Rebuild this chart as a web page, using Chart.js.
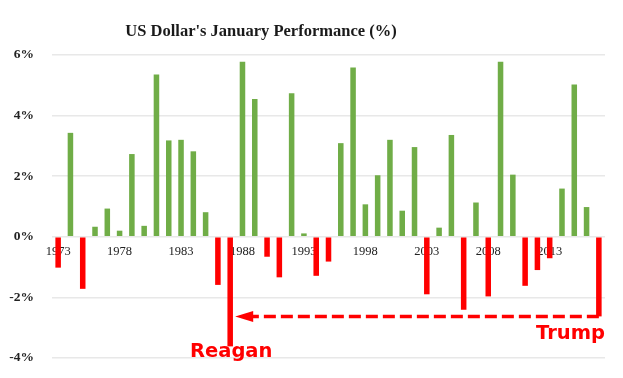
<!DOCTYPE html>
<html>
<head>
<meta charset="utf-8">
<script src="https://cdn.jsdelivr.net/npm/chart.js@4.4.1/dist/chart.umd.min.js"></script>
<style>
  html, body { margin: 0; padding: 0; background: #fff; overflow: hidden; }
  #wrap { width: 623px; height: 384px; }
</style>
</head>
<body>
<div id="wrap"><canvas id="myChart"></canvas></div>
<script>
// January change of the US dollar, per year
const years = [];
for (let y = 1973; y <= 2017; y++) years.push(String(y));
const janPerf = [
  -1.02, 3.43, -1.72, 0.33, 0.93, 0.20, 2.73, 0.36, 5.36, 3.18,
  3.20, 2.82, 0.81, -1.59, -3.62, 5.78, 4.55, -0.66, -1.34, 4.74,
  0.11, -1.29, -0.82, 3.09, 5.59, 1.07, 2.03, 3.20, 0.86, 2.96,
  -1.90, 0.30, 3.36, -2.41, 1.13, -1.97, 5.78, 2.05, -1.62, -1.10,
  -0.71, 1.59, 5.03, 0.98, -2.63
];
const yTicks = [-4, -2, 0, 2, 4, 6];
const labelYears = ['1973', '1978', '1983', '1988', '1993', '1998', '2003', '2008', '2013'];
const reaganYear = '1987';
const trumpYear = '2017';

const GREEN = '#70ad47';
const RED = '#ff0000';
const SERIF = '"Liberation Serif", "DejaVu Serif", serif';
const SANS = '"DejaVu Sans", sans-serif';

// title + Reagan/Trump arrow drawn on top of the chart
const notes = {
  id: 'notes',
  afterDraw(chart) {
    const ctx = chart.ctx;
    const x = chart.scales.x, y = chart.scales.y;
    ctx.save();

    ctx.fillStyle = '#1a1a1a';
    ctx.font = 'bold 16.5px ' + SERIF;
    ctx.textAlign = 'center';
    ctx.textBaseline = 'middle';
    ctx.fillText("US Dollar's January Performance (%)", 261, 32);

    const ia = years.indexOf(reaganYear), ib = years.indexOf(trumpYear);
    const xa = x.getPixelForValue(ia), xb = x.getPixelForValue(ib);
    const ya = y.getPixelForValue(janPerf[ib]);
    const tip = xa + 5;

    ctx.strokeStyle = RED;
    ctx.lineWidth = 3.5;
    ctx.setLineDash([12, 5]);
    ctx.beginPath();
    ctx.moveTo(xb, ya);
    ctx.lineTo(tip + 16, ya);
    ctx.stroke();
    ctx.setLineDash([]);

    ctx.fillStyle = RED;
    ctx.beginPath();
    ctx.moveTo(tip, ya);
    ctx.lineTo(tip + 18, ya - 5.5);
    ctx.lineTo(tip + 18, ya + 5.5);
    ctx.closePath();
    ctx.fill();

    ctx.font = 'bold 19.5px ' + SANS;
    ctx.textBaseline = 'alphabetic';
    ctx.textAlign = 'center';
    ctx.fillText('Reagan', xa + 1, y.getPixelForValue(-3.75) + 7);
    ctx.textAlign = 'right';
    ctx.fillText('Trump', chart.chartArea.right, y.getPixelForValue(-3.36));
    ctx.restore();
  }
};

new Chart(document.getElementById('myChart'), {
  type: 'bar',
  data: {
    labels: years,
    datasets: [{
      data: janPerf,
      backgroundColor: janPerf.map(v => v < 0 ? RED : GREEN),
      barPercentage: 0.45,
      categoryPercentage: 1
    }]
  },
  options: {
    responsive: true,
    maintainAspectRatio: false,
    animation: false,
    layout: { padding: { top: 55, right: 18, bottom: 14, left: 0 } },
    plugins: {
      legend: { display: false },
      tooltip: { enabled: false },
      title: { display: false }
    },
    scales: {
      x: {
        type: 'category',
        position: { y: 0 },
        afterFit: s => { s.height = 0; },
        grid: { display: false, drawTicks: false },
        border: { display: false },
        ticks: {
          autoSkip: false,
          maxRotation: 0,
          padding: 7,
          color: '#222',
          font: { family: SERIF, size: 12.5 },
          callback: function (v) {
            const l = this.getLabelForValue(v);
            return labelYears.includes(l) ? l : '';
          }
        }
      },
      y: {
        min: -4,
        max: 6,
        afterBuildTicks: s => { s.ticks = yTicks.map(v => ({ value: v })); },
        afterFit: s => { s.width = 52; },
        grid: { color: '#e8e8e8', lineWidth: 1.5, drawTicks: false },
        border: { display: false },
        ticks: {
          padding: 18,
          color: '#222',
          font: { family: SERIF, size: 13.5, weight: 'bold' },
          callback: v => v + '%'
        }
      }
    }
  },
  plugins: [notes]
});
</script>
</body>
</html>
